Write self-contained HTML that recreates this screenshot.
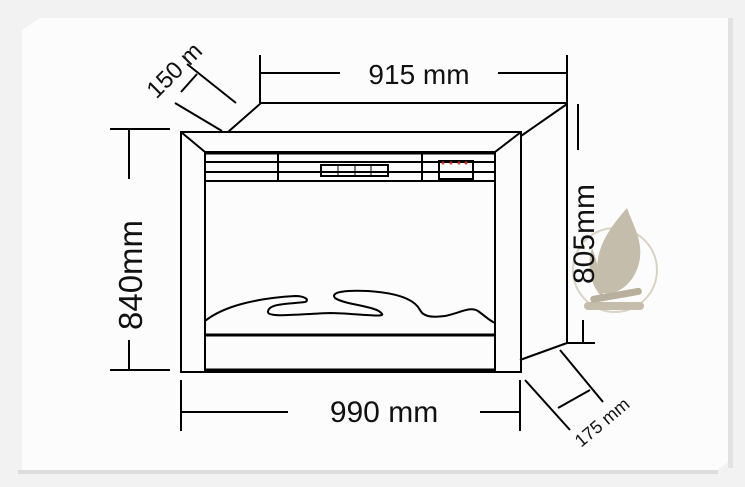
<!DOCTYPE html>
<html><head><meta charset="utf-8"><style>
html,body{margin:0;padding:0;background:#fff;}
svg{display:block}
text{font-family:"Liberation Sans",Arial,sans-serif;fill:#111}
</style></head><body>
<svg width="745" height="487" viewBox="0 0 745 487" xmlns="http://www.w3.org/2000/svg">
<rect width="745" height="487" fill="#f2f2f2"/>
<polygon points="22,30 40,18 728,18 728,462 712,474 22,474" fill="#fcfcfc"/>
<rect x="18" y="470" width="700" height="4" fill="#ddd"/>
<rect x="728" y="18" width="5" height="450" fill="#e2e2e2"/>
<!-- logo -->
<g opacity="0.8">
<circle cx="615" cy="270" r="42" fill="none" stroke="#d2c9b8" stroke-width="2"/>
<path d="M627,208 C606,232 590,255 600,292 C614,298 636,285 640,258 C642,238 633,225 627,208 Z" fill="#b8ae98"/>
<path d="M592,248 C586,268 592,290 604,298 C600,282 599,265 592,248 Z" fill="#b8ae98"/>
<rect x="584" y="302" width="60" height="8" rx="4" fill="#b8ae98"/>
<rect x="590" y="292" width="52" height="7" rx="3" fill="#a89d85" transform="rotate(-10 615 295)"/>
</g>
<g stroke="#000" fill="none" stroke-width="2">
<line x1="261" y1="103" x2="567" y2="103"/>
<line x1="228" y1="132" x2="261" y2="103"/>
<line x1="521" y1="136" x2="567" y2="104"/>
<line x1="567" y1="103" x2="567" y2="344"/>
<line x1="520" y1="360" x2="567" y2="343"/>
<rect x="181" y="132" width="340" height="240"/>
<line x1="181" y1="132" x2="205" y2="152"/>
<line x1="521" y1="132" x2="495" y2="152"/>
<rect x="205" y="152" width="290" height="218"/>
<line x1="205" y1="153" x2="495" y2="153" stroke-width="3"/>
<line x1="205" y1="162" x2="495" y2="162"/>
<line x1="205" y1="172" x2="495" y2="172"/>
<line x1="205" y1="181" x2="495" y2="181"/>
<line x1="278" y1="153" x2="278" y2="181"/>
<line x1="422" y1="153" x2="422" y2="181"/>
<rect x="321" y="165" width="67" height="11"/>
<line x1="338" y1="165" x2="338" y2="176" stroke-width="1"/>
<line x1="355" y1="165" x2="355" y2="176" stroke-width="1"/>
<line x1="371" y1="165" x2="371" y2="176" stroke-width="1"/>
<rect x="439" y="161" width="34" height="18"/>
<line x1="205" y1="335" x2="495" y2="335" stroke-width="3"/>
<line x1="205" y1="370" x2="495" y2="370" stroke-width="3"/>
<path d="M205,321 C225,305 260,298 295,296 C305,296 310,300 305,302 C290,304 268,303 268,312 C268,318 300,314 330,313 C350,313 385,318 382,314 C378,306 345,305 335,298 C330,292 345,290 368,291 C400,293 415,300 420,310 C423,316 430,318 445,316 C460,313 470,306 478,311 C485,316 490,321 495,323"/>
<line x1="260" y1="55" x2="260" y2="103"/>
<line x1="567" y1="55" x2="567" y2="103"/>
<line x1="260" y1="73" x2="340" y2="73"/>
<line x1="498" y1="73" x2="567" y2="73"/>
<line x1="110" y1="129" x2="170" y2="129"/>
<line x1="129" y1="129" x2="129" y2="179"/>
<line x1="110" y1="370" x2="170" y2="370"/>
<line x1="129" y1="340" x2="129" y2="370"/>
<line x1="578" y1="104" x2="578" y2="150"/>
<line x1="567" y1="343" x2="595" y2="343"/>
<line x1="583" y1="320" x2="583" y2="343"/>
<line x1="181" y1="380" x2="181" y2="431"/>
<line x1="520" y1="380" x2="520" y2="431"/>
<line x1="181" y1="412" x2="288" y2="412"/>
<line x1="480" y1="412" x2="520" y2="412"/>
<line x1="175" y1="103" x2="222" y2="131"/>
<line x1="187" y1="64" x2="236" y2="103"/>
<line x1="181" y1="92" x2="197" y2="74"/>
<line x1="525" y1="380" x2="570" y2="430"/>
<line x1="560" y1="350" x2="603" y2="402"/>
<line x1="558" y1="408" x2="590" y2="390"/>
</g>
<g fill="#c33"><circle cx="443" cy="163" r="1.5"/><circle cx="451" cy="163" r="1.5"/><circle cx="459" cy="163" r="1.5"/><circle cx="466" cy="163" r="1.5"/></g>
<text x="419" y="84" font-size="28" text-anchor="middle">915 mm</text>
<text x="384" y="422" font-size="30" text-anchor="middle">990 mm</text>
<text transform="translate(142,275) rotate(-90)" font-size="33" text-anchor="middle">840mm</text>
<text transform="translate(594,234) rotate(-90)" font-size="30" text-anchor="middle">805mm</text>
<text transform="translate(180,76) rotate(-45)" font-size="24" text-anchor="middle">150 m</text>
<text transform="translate(606,427) rotate(-40)" font-size="18" text-anchor="middle">175 mm</text>
</svg>
</body></html>
